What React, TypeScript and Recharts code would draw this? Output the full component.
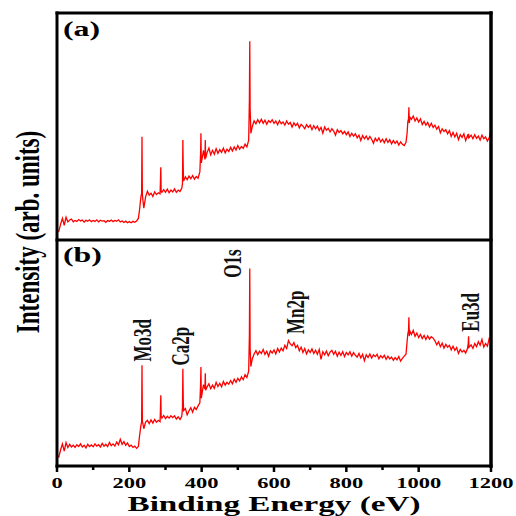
import React from "react";
import { LineChart, Line, XAxis, YAxis, ReferenceDot, ReferenceLine } from "recharts";

// binding energy (eV); extra points sit around the narrow core-level peaks
const energy = [
  0, 5, 10, 15, 20, 25, 30, 35, 40, 45,
  50, 55, 60, 65, 70, 75, 80, 85, 90, 95,
  100, 105, 110, 115, 120, 125, 130, 135, 140, 145,
  150, 155, 160, 165, 170, 175, 180, 185, 190, 195,
  200, 205, 210, 215, 220, 225, 228, 232, 234, 235,
  236, 240, 245, 250, 255, 260, 265, 270, 275, 280,
  285, 286, 287, 288, 290, 295, 300, 305, 310, 315,
  320, 325, 330, 335, 340, 345, 347, 348, 349, 350,
  355, 360, 365, 370, 375, 380, 385, 390, 395, 397,
  398, 399, 402, 405, 409, 410, 411, 415, 420, 425,
  430, 435, 440, 445, 450, 455, 460, 465, 470, 475,
  480, 485, 490, 495, 500, 505, 510, 515, 520, 525,
  530, 532, 533, 534, 536, 540, 545, 550, 555, 560,
  565, 570, 575, 580, 585, 590, 595, 600, 605, 610,
  615, 620, 625, 630, 635, 640, 645, 650, 655, 660,
  665, 670, 675, 680, 685, 690, 695, 700, 705, 710,
  715, 720, 725, 730, 735, 740, 745, 750, 755, 760,
  765, 770, 775, 780, 785, 790, 795, 800, 805, 810,
  815, 820, 825, 830, 835, 840, 845, 850, 855, 860,
  865, 870, 875, 880, 885, 890, 895, 900, 905, 910,
  915, 920, 925, 930, 935, 940, 945, 950, 955, 960,
  965, 968, 970, 972, 973, 974, 976, 980, 985, 990,
  995, 1000, 1005, 1010, 1015, 1020, 1025, 1030, 1035, 1040,
  1045, 1050, 1055, 1060, 1065, 1070, 1075, 1080, 1085, 1090,
  1095, 1100, 1105, 1110, 1115, 1120, 1125, 1130, 1135, 1137,
  1138, 1139, 1145, 1150, 1155, 1160, 1165, 1170, 1175, 1180,
  1185, 1190, 1195, 1200,
];

// panel (a), intensity as % of the panel height
const panelA = [
  4.5, 3.8, 7, 9.5, 6.5, 10, 8, 8.8, 9.2, 8,
  8.6, 8.2, 9, 8.4, 8.8, 7.9, 8.7, 8.3, 8.9, 8.1,
  8.6, 8.2, 8.9, 8, 8.7, 8.3, 8.5, 7.8, 8.6, 8.2,
  8.8, 8.1, 8.6, 8.3, 8.9, 8, 8.4, 7.7, 8.3, 7.6,
  8.1, 7.6, 8.2, 7.8, 8.4, 9.5, 13, 19, 20.5, 45.5,
  20, 14, 19, 21.5, 19.8, 20.6, 19.2, 21.2, 20, 20.8,
  20.3, 26, 32, 21.5, 21, 22.2, 21, 22.4, 20.8, 22,
  21.2, 22.5, 21, 22, 21.4, 22.8, 25, 44, 32, 26,
  27.8, 26.6, 28.2, 27, 28.4, 26.8, 28, 27.2, 30, 38,
  47, 34, 36.5, 39.5, 35.5, 44, 36, 38.5, 40.5, 37.5,
  39.5, 37.8, 40.2, 38.2, 39.8, 38.6, 40.4, 38.4, 40, 39,
  40.8, 39.2, 41, 39.6, 41.6, 40, 41.2, 40.4, 42.2, 41,
  44, 62, 87.5, 58, 47, 50, 52.5, 51.2, 53, 51.6,
  53.2, 51.4, 52.8, 51, 52.6, 51.8, 53, 51.4, 52.4, 50.8,
  52.6, 51.2, 52, 50.6, 52.4, 51, 51.8, 49.8, 51.6, 50.4,
  51.4, 49.4, 51, 50.2, 49, 50.8, 49.6, 50.6, 48.6, 50.4,
  49, 50.2, 48.2, 49.6, 47, 49.8, 48.4, 49.2, 47.6, 49,
  48, 46.2, 48.6, 47.4, 48.2, 46.8, 47.8, 46.4, 47.6, 45.6,
  47, 45.8, 46.8, 45, 46.2, 43.8, 46, 44.6, 45.8, 44.2,
  45.6, 44.4, 42.6, 44.8, 43.6, 45, 43.2, 44.4, 42.8, 44.6,
  43, 44.2, 42.4, 43.8, 42.6, 43.6, 41.8, 43.2, 42.2, 41.6,
  43, 47, 52, 53.5, 58.5, 51.5, 54, 53.2, 54.6, 52.4,
  53.8, 52, 53.4, 50.8, 52.2, 50.6, 51.8, 49.8, 51.4, 49.6,
  50.6, 48.8, 50, 47.2, 49, 47.8, 48.6, 46.8, 48.2, 45.6,
  47.4, 45.4, 47, 44.2, 46.4, 45.2, 46.8, 43.8, 46, 45.2,
  46.8, 45, 46.2, 44.6, 46.4, 44.8, 45.8, 44, 46.2, 44.6,
  45.4, 43.6, 45, 48,
];

// panel (b)
const panelB = [
  4.8, 4, 7.2, 9.8, 6.6, 10.4, 8.2, 9.6, 8.4, 9.2,
  8.2, 9.4, 8.6, 9.8, 8.4, 9.2, 8, 9.6, 8.6, 9.3,
  8.5, 9.8, 8.8, 9.4, 8.4, 10, 8.8, 9.6, 8.6, 10.4,
  9, 9.8, 8.8, 10.6, 9.4, 11.8, 9.6, 10.8, 9.2, 10.2,
  8.6, 9.2, 8.2, 8.8, 7.8, 8.6, 13, 18, 19.5, 44.6,
  20, 16.5, 19.4, 20.2, 18.8, 20.4, 19, 20.6, 19.4, 20.2,
  19.6, 25, 31.3, 22, 21.2, 22.4, 21, 22, 21.2, 22.2,
  21.4, 22.2, 20.8, 21.8, 20.6, 22, 26, 43, 30, 24.5,
  25.4, 22.6, 24.4, 25.8, 23.8, 26, 25, 26.6, 28, 36,
  43.8, 30, 33, 36, 34, 41, 33.5, 35, 36.4, 34.2,
  35.8, 34.4, 37, 35.2, 36.6, 35, 37.4, 35.8, 37, 36.2,
  37.8, 36.4, 38.4, 37, 38.8, 37.6, 39.4, 38.2, 40.4, 39.2,
  42, 58, 87.4, 52, 44, 47.5, 49.6, 51, 49.2, 50.8,
  49.8, 51.6, 49.4, 50.8, 48.6, 51, 50, 51.4, 49.6, 52,
  50.4, 52.2, 51, 53.4, 52, 55.5, 54, 53.2, 54.6, 52.4,
  53.4, 51, 52.6, 50.2, 52, 49.6, 51.4, 50.2, 51.8, 49.8,
  51.2, 49.4, 51.6, 47.2, 50.6, 49.2, 50.8, 48.8, 50.4, 51.2,
  49.4, 50.8, 48.6, 50.4, 49, 50.6, 48.4, 50.2, 49.2, 50.6,
  48.6, 50.2, 49, 48.2, 49.8, 47.8, 49.4, 46.6, 49.2, 48,
  49.6, 47.8, 49.2, 48.4, 49.4, 47.4, 48.8, 47.8, 49, 47.2,
  48.6, 47.4, 48.2, 46.8, 48, 47, 48.4, 46.4, 47.6, 48.6,
  49.5, 55, 58.5, 60, 65.8, 57.5, 59.6, 58.2, 60, 57.4,
  58.8, 56.8, 58.2, 56.4, 57.8, 56, 57.6, 56.2, 57.2, 56.6,
  55.4, 53.6, 55, 52.8, 54.4, 52.2, 53.8, 52.6, 53.4, 51.4,
  53, 51.2, 52.4, 49.8, 51.6, 50.4, 51.2, 50, 52, 54,
  57.4, 52.5, 53.6, 52, 54.2, 52.8, 55, 53.4, 56, 52.6,
  54.2, 53, 56.4, 54.8,
];

const xTicks = [0, 100, 200, 300, 400, 500, 600, 700, 800, 900, 1000, 1100, 1200];

const peakNames = ["Mo3d", "Ca2p", "O1s", "Mn2p", "Eu3d"];
const peakLabelEnergy = [237, 342, 487, 661, 1143];
const peakLabelLevel = [55.6, 53, 89.6, 68, 68];

const SERIF = '"Liberation Serif", "Times New Roman", serif';
const STRETCH = 1.45; // the original figure is stretched sideways
const RED = "#ff0000";

const rows = energy.map((e, i) => ({ energy: e, a: panelA[i], b: panelB[i] }));

function EnergyTick(props: any) {
  const { x, y, payload } = props;
  const major = payload.value % 200 === 0;
  return (
    <g>
      <line x1={x} x2={x} y1={y} y2={y + (major ? 6 : 4)} stroke="#000" strokeWidth={2.5} />
      {major && (
        <text
          transform={`translate(${x},${y + 22}) scale(${STRETCH},1)`}
          textAnchor="middle"
          fontFamily={SERIF}
          fontWeight="bold"
          fontSize={15.5}
          fill="#000"
        >
          {payload.value}
        </text>
      )}
    </g>
  );
}

function peakLabel(name: string) {
  return (props: any) => {
    const vb = props.viewBox;
    const cx = vb.x + vb.width / 2;
    const cy = vb.y + vb.height / 2;
    return (
      <text
        transform={`translate(${cx},${cy}) scale(1.5,1) rotate(-90)`}
        textAnchor="middle"
        dominantBaseline="central"
        fontFamily={SERIF}
        fontWeight="bold"
        fontSize={17}
        fill="#111"
      >
        {name}
      </text>
    );
  };
}

// box around a panel, drawn through the panel's own scales
function frameLines() {
  const style = { stroke: "#000", strokeWidth: 3, strokeLinecap: "square" as const };
  return [
    <ReferenceLine key="l" x={0} {...style} />,
    <ReferenceLine key="r" x={1200} {...style} strokeWidth={3.5} />,
    <ReferenceLine key="t" y={100} {...style} />,
    <ReferenceLine key="b" y={0} {...style} />,
  ];
}

export default function App() {
  return (
    <div style={{ position: "absolute", left: 0, top: 0, width: 516, height: 516, background: "#fff" }}>
      <div style={{ position: "absolute", left: 0, top: 0 }}>
        <LineChart width={516} height={240} data={rows} margin={{ top: 13, right: 25, bottom: 0, left: 57 }}>
          <XAxis dataKey="energy" type="number" domain={[0, 1200]} hide />
          <YAxis type="number" domain={[0, 100]} hide />
          <Line type="linear" dataKey="a" stroke={RED} strokeWidth={1.3} dot={false} isAnimationActive={false} />
          {frameLines()}
        </LineChart>
      </div>
      <div style={{ position: "absolute", left: 0, top: 240 }}>
        <LineChart width={516} height={276} data={rows} margin={{ top: 0, right: 25, bottom: 0, left: 57 }}>
          <XAxis
            dataKey="energy"
            type="number"
            domain={[0, 1200]}
            ticks={xTicks}
            tick={<EnergyTick />}
            tickSize={0}
            tickMargin={0}
            tickLine={false}
            axisLine={false}
            height={50}
          />
          <YAxis type="number" domain={[0, 100]} hide />
          <Line type="linear" dataKey="b" stroke={RED} strokeWidth={1.3} dot={false} isAnimationActive={false} />
          {frameLines()}
          {peakNames.map((name, i) => (
            <ReferenceDot
              key={name}
              x={peakLabelEnergy[i]}
              y={peakLabelLevel[i]}
              r={1}
              fill="none"
              stroke="none"
              label={{ content: peakLabel(name) }}
            />
          ))}
        </LineChart>
      </div>
      <svg width={516} height={516} style={{ position: "absolute", left: 0, top: 0, pointerEvents: "none" }}>
        <text transform={`translate(27,232) scale(${STRETCH},1) rotate(-90)`} textAnchor="middle" dominantBaseline="central" fontFamily={SERIF} fontWeight="bold" fontSize={23} fill="#000">
          Intensity (arb. units)
        </text>
        <text transform={`translate(63,36) scale(${STRETCH},1)`} fontFamily={SERIF} fontWeight="bold" fontSize={22} fill="#000">
          (a)
        </text>
        <text transform={`translate(63,262) scale(${STRETCH},1)`} fontFamily={SERIF} fontWeight="bold" fontSize={22} fill="#000">
          (b)
        </text>
        <text transform="translate(274,510.5) scale(1.58,1)" textAnchor="middle" fontFamily={SERIF} fontWeight="bold" fontSize={21} fill="#000">
          Binding Energy (eV)
        </text>
      </svg>
    </div>
  );
}
